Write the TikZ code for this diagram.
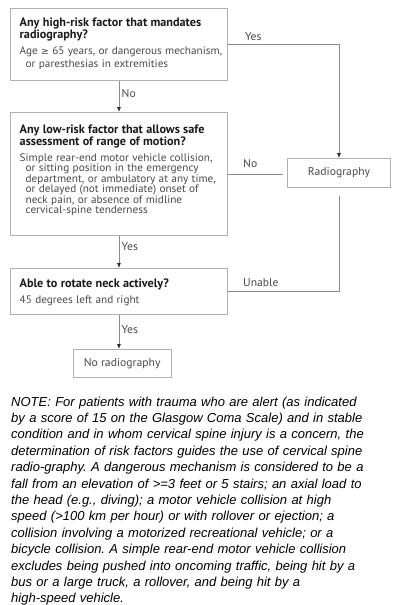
\documentclass[tikz,border=0pt]{standalone}
\usepackage{fontspec}
\setmainfont{PT Sans}
\newfontfamily\bodyfont[FakeStretch=1.03]{PT Sans}
\newfontfamily\notefont{Liberation Sans}
\newfontfamily\symfont[Scale=0.85]{DejaVu Sans}
\usetikzlibrary{arrows.meta,calc}
\definecolor{boxline}{HTML}{B0B0B0}
\definecolor{connc}{HTML}{8C8C8C}
\definecolor{headtxt}{HTML}{1A1A1A}
\definecolor{bodytxt}{HTML}{4A4A4A}
\newcommand{\hd}{\fontsize{12.2}{12}\selectfont\bfseries\color{headtxt}}
\newcommand{\bdA}{\bodyfont\fontsize{10.9}{12.7}\selectfont\color{bodytxt}}
\newcommand{\bdB}{\bodyfont\fontsize{10.9}{10.5}\selectfont\color{bodytxt}}
\newcommand{\ind}{\hspace*{6pt}}
\frenchspacing
\begin{document}
\begin{tikzpicture}[x=1pt,y=1pt,
  box/.style={draw=boxline,line width=0.9pt,inner sep=0pt,anchor=north west,
    font=\bodyfont\fontsize{11.3}{12}\selectfont,text=bodytxt},
  txt/.style={inner sep=0pt,anchor=base west,text width=212pt,align=left},
  lbl/.style={inner sep=0pt,anchor=base west,font=\bodyfont\fontsize{11.3}{12}\selectfont,text=bodytxt},
  conn/.style={draw=connc,line width=0.8pt},
  arr/.style={conn,-{Latex[length=5pt,width=4pt,color=black!85]}}]
\useasboundingbox (0,0) rectangle (400,-605);
\fill[white] (0,0) rectangle (400,-605);

% boxes
\node[box,minimum width=217,minimum height=72] (b1) at (10,-8) {};
\node[box,minimum width=217,minimum height=123] (b2) at (10,-112) {};
\node[box,minimum width=217,minimum height=46] (b3) at (10,-268) {};
\node[box,minimum width=103,minimum height=29] (rad) at (287,-158) {Radiography};
\node[box,minimum width=98,minimum height=28] (norad) at (72.7,-349) {No radiography};

% box texts
\node[txt] (t1) at (19.5,-26.5) {{\hd Any high-risk factor that mandates\\radiography?\par}\vspace{3.2pt}%
{\bdA Age {\symfont ≥} 65 years, or dangerous mechanism,\\\ind or paresthesias in extremities\par}};
\node[txt] (t2) at (19.5,-133) {{\hd Any low-risk factor that allows safe\\assessment of range of motion?\par}\vspace{5.5pt}%
{\bdB Simple rear-end motor vehicle collision,\\\ind or sitting position in the emergency\\\ind department, or ambulatory at any time,\\\ind or delayed (not immediate) onset of\\\ind neck pain, or absence of midline\\\ind cervical-spine tenderness\par}};
\node[txt] (t3) at (19.5,-287) {{\hd Able to rotate neck actively?\par}\vspace{4.2pt}%
{\bdA 45 degrees left and right\par}};

% connectors
\draw[arr] (b1.south) -- (b1.south |- b2.north);
\node[lbl] (lno1) at (121.5,-97) {No};
\draw[arr] (b1.east) -| (rad.north);
\node[lbl] (lyes1) at (245,-40.5) {Yes};
\draw[conn,shorten >=4pt] (b2.east) -- (b2.east -| rad.west);
\node[lbl] (lno2) at (243,-167) {No};
\draw[arr] (b2.south) -- (b2.south |- b3.north);
\node[lbl] (lyes2) at (121.5,-250.5) {Yes};
\draw[conn,shorten >=8pt] (b3.east) -| (rad.south);
\node[lbl] (lun) at (243,-286.7) {Unable};
\draw[arr] (b3.south) -- (b3.south |- norad.north);
\node[lbl] (lyes3) at (121.5,-333) {Yes};

% note
\node[inner sep=0pt,anchor=base west,text width=395pt,align=left,
  font=\notefont\itshape\fontsize{13}{16.4}\selectfont] (note) at (11,-406) {%
NOTE: For patients with trauma who are alert (as indicated\\
by a score of 15 on the Glasgow Coma Scale) and in stable\\
condition and in whom cervical spine injury is a concern, the\\
determination of risk factors guides the use of cervical spine\\
radio-graphy. A dangerous mechanism is considered to be a\\
fall from an elevation of >=3 feet or 5 stairs; an axial load to\\
the head (e.g., diving); a motor vehicle collision at high\\
speed (>100 km per hour) or with rollover or ejection; a\\
collision involving a motorized recreational vehicle; or a\\
bicycle collision. A simple rear-end motor vehicle collision\\
excludes being pushed into oncoming traffic, being hit by a\\
bus or a large truck, a rollover, and being hit by a\\
high-speed vehicle.};
\end{tikzpicture}
\end{document}
